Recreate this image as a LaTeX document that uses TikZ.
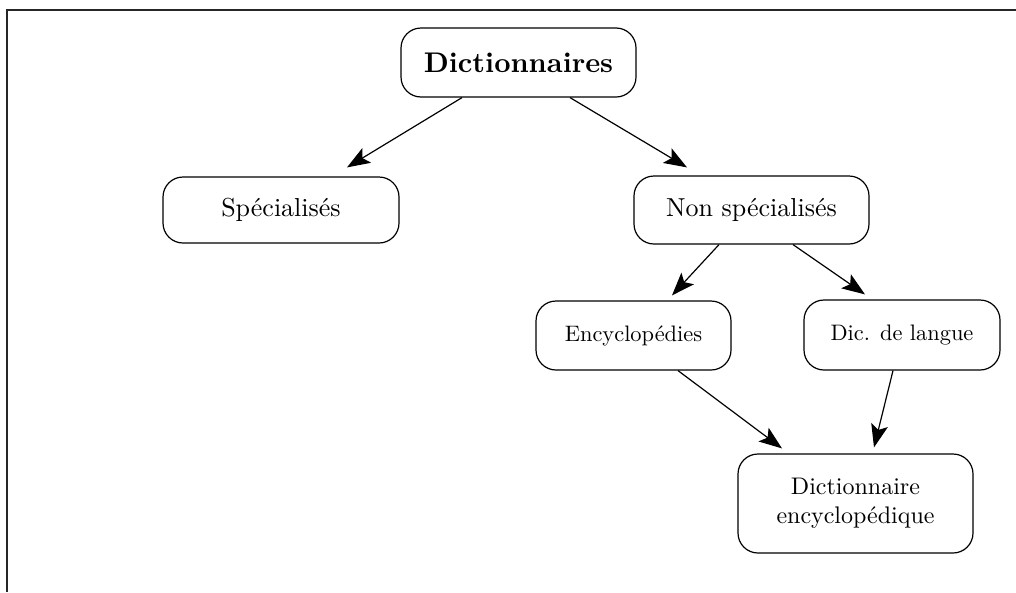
\documentclass[tikz,border=0pt]{standalone}
\usepackage{fontspec}
\setmainfont{lmroman10-regular}[Extension=.otf, BoldFont=lmroman10-bold]
\usetikzlibrary{arrows.meta,calc}

\tikzset{
  box/.style={draw, line width=1.2pt, rounded corners=20pt, inner sep=0pt,
              align=center, fill=white},
  bigtext/.style={font=\fontsize{26}{30}\selectfont},
  smalltext/.style={font=\fontsize{22.4}{27}\selectfont},
  link/.style={line width=1.2pt, -{Stealth[length=23pt,width=17pt,inset=5pt]}},
  frame/.style={line width=2pt, draw=black!85}
}

\begin{document}
\begin{tikzpicture}[x=1pt, y=-1pt]
  \useasboundingbox (0,0) rectangle (1016,592);

  % outer frame (open at the right and the bottom)
  \draw[frame] (7,592) -- (7,10) -- (1016,10);

  % boxes
  \node[box, minimum width=235pt, minimum height=69pt,
        font=\fontsize{28.4}{32}\selectfont\bfseries] (dict) at (518.5,62.5) {Dictionnaires};
  \node[box, bigtext, minimum width=236pt, minimum height=66pt] (spec) at (281,210) {Spécialisés};
  \node[box, bigtext, minimum width=235pt, minimum height=68pt] (nonspec) at (751.5,210) {Non spécialisés};
  \node[box, smalltext, minimum width=195pt, minimum height=69pt] (ency) at (633.5,335.5) {Encyclopédies};
  \node[box, smalltext, minimum width=196pt, minimum height=70pt] (lang) at (902,335) {Dic. de langue};
  \node[box, font=\fontsize{24}{29}\selectfont, minimum width=235pt, minimum height=99pt]
        (dicency) at (855.5,503.5) {Dictionnaire\\encyclopédique};

  % connectors
  \draw[link] ($(dict.south)+(-56.5,0)$) -- ($(spec.north)+(66,-9)$);
  \draw[link] ($(dict.south)+(51.5,0)$) -- ($(nonspec.north)+(-64.5,-8)$);
  \draw[link] ($(nonspec.south)+(-32.5,0)$) -- ($(ency.north)+(38.5,-5)$);
  \draw[link] ($(nonspec.south)+(41.5,0)$) -- ($(lang.north)+(-37,-5)$);
  \draw[link] ($(ency.south)+(44.5,0)$) -- ($(dicency.north)+(-73.5,-5)$);
  \draw[link] ($(lang.south)+(-9,0)$) -- ($(dicency.north)+(18.5,-6)$);
\end{tikzpicture}
\end{document}
